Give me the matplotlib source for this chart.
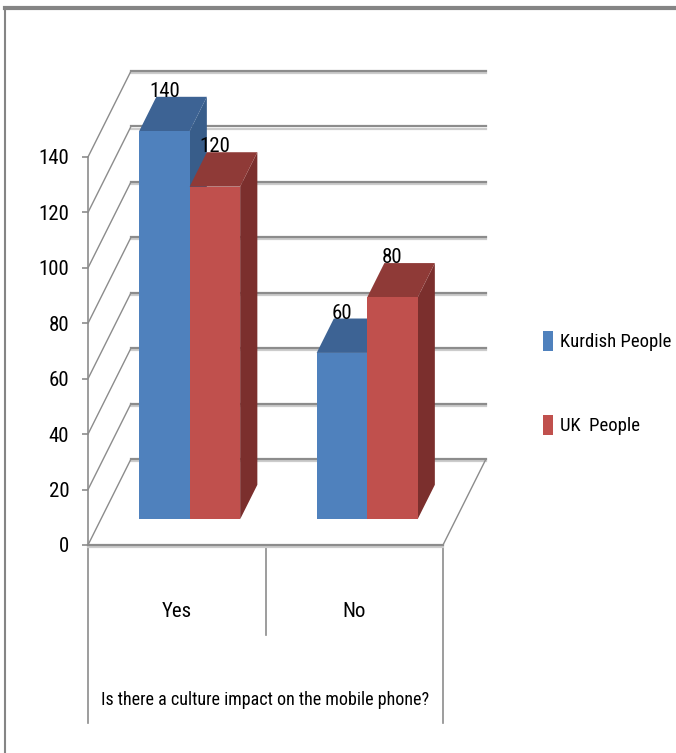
import matplotlib
matplotlib.use("Agg")
from matplotlib import pyplot as plt
from matplotlib.lines import Line2D
from matplotlib.patches import Polygon, Patch
import matplotlib.patheffects as pe

categories = ['Yes', 'No']
series_names = ['Kurdish People', 'UK  People']
kurdish = [140, 60]
uk = [120, 80]
yticks = [0, 20, 40, 60, 80, 100, 120, 140]
axis_title = 'Is there a culture impact on the mobile phone?'

# face colours: front, top, side
blue = ('#4F81BD', '#3D6394', '#385D8A')
red = ('#C0504D', '#8F3A37', '#7B2F2D')

plt.rcParams['font.family'] = ['Roboto Condensed', 'DejaVu Sans']
plt.rcParams['font.stretch'] = 'condensed'
FS = 15
GRID = '#8c8c8c'

W, H = 676, 753
fig = plt.figure(figsize=(W / 100, H / 100), dpi=100)

# front plane of the 3d box
left, right, bottom, top = 88, 443, 545, 157
ax = fig.add_axes([left / W, (H - bottom) / H, (right - left) / W, (bottom - top) / H])
ax.set_xlim(0, 2)
ax.set_ylim(0, 140)

# depth of the box in data units
px_x = (right - left) / 2.0
px_y = (bottom - top) / 140.0
DX = 43 / px_x
DY = 86 / px_y

shadow = [pe.SimpleLineShadow(offset=(0, -1.5), shadow_color='0.8', alpha=1.0), pe.Normal()]

# back wall gridlines and side wall diagonals
for v in yticks:
    ax.plot([DX, 2 + DX], [v + DY, v + DY], color=GRID, lw=1.6, clip_on=False,
            path_effects=shadow, zorder=1)
    ax.plot([0, DX], [v, v + DY], color=GRID, lw=1.0, clip_on=False, zorder=1)
# right edge of the floor
ax.plot([2, 2 + DX], [0, DY], color=GRID, lw=1.0, clip_on=False, zorder=1)

# bars
bw = 0.2845
dpos = 0.3
ddep = 0.4
base = dpos * DY
for ci in range(len(categories)):
    cx = ci + 0.5 + dpos * DX
    for si, (vals, cols) in enumerate([(kurdish, blue), (uk, red)]):
        v = vals[ci]
        x0 = cx - bw + si * bw
        x1 = x0 + bw
        y0 = base
        y1 = base + v
        ox, oy = ddep * DX, ddep * DY
        side = Polygon([(x1, y0), (x1 + ox, y0 + oy), (x1 + ox, y1 + oy), (x1, y1)],
                       closed=True, fc=cols[2], ec='none', clip_on=False, zorder=3 + si * 3)
        topf = Polygon([(x0, y1), (x1, y1), (x1 + ox, y1 + oy), (x0 + ox, y1 + oy)],
                       closed=True, fc=cols[1], ec='none', clip_on=False, zorder=4 + si * 3)
        front = Polygon([(x0, y0), (x1, y0), (x1, y1), (x0, y1)],
                        closed=True, fc=cols[0], ec='none', clip_on=False, zorder=5 + si * 3)
        for p in (side, topf, front):
            ax.add_patch(p)
        ax.text((x0 + x1) / 2, y1 + oy, str(v), ha='center', va='baseline',
                fontsize=FS, zorder=10)

# axes
for s in ['top', 'right']:
    ax.spines[s].set_visible(False)
ax.spines['left'].set_color(GRID)
ax.spines['left'].set_linewidth(1.2)
ax.spines['bottom'].set_color(GRID)
ax.spines['bottom'].set_linewidth(1.6)
ax.spines['bottom'].set_path_effects(shadow)
ax.set_yticks(yticks)
ax.tick_params(axis='y', length=4.5, width=1.2, color=GRID, pad=9, labelsize=FS)
ax.set_xticks([0.5, 1.5])
ax.set_xticklabels(categories)
ax.tick_params(axis='x', length=0, pad=41, labelsize=FS)
ax.set_facecolor('none')

# category separators below the floor
tr = ax.get_xaxis_transform()
for x, y in [(0, -0.459), (1, -0.232), (2, -0.459)]:
    ax.plot([x, x], [0, y], color=GRID, lw=1.2, transform=tr, clip_on=False)

ax.set_xlabel(axis_title, fontsize=13)
ax.xaxis.set_label_coords(0.5, -0.40)
ax.xaxis.label.set_va('center')

handles = [Patch(fc=blue[0], ec='none'), Patch(fc=red[0], ec='none')]
fig.legend(handles, series_names, loc='center left', bbox_to_anchor=(543 / W, 1 - 383 / H),
           frameon=False, fontsize=13.5, handlelength=0.55, handleheight=1.3,
           handletextpad=0.35, labelspacing=3.4, borderpad=0, borderaxespad=0)

# chart frame
fig.add_artist(Line2D([5 / W, 1], [1 - 8 / H, 1 - 8 / H], color='#858585', lw=3))
fig.add_artist(Line2D([5 / W, 5 / W], [0, 1 - 8 / H], color='#858585', lw=1.5))

fig.savefig('out.png', dpi=100)
